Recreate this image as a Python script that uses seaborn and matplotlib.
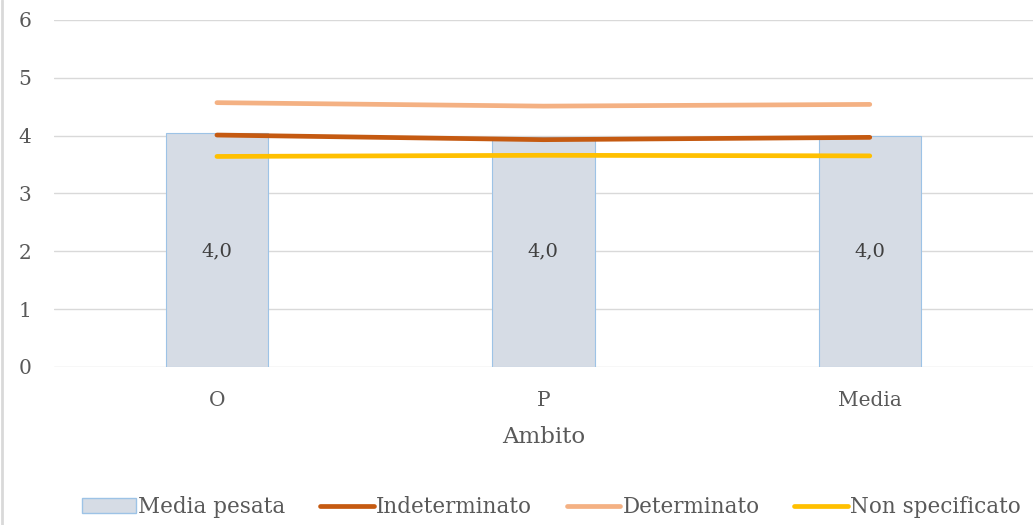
import matplotlib
matplotlib.use("Agg")
import matplotlib.pyplot as plt
import seaborn as sns
import pandas as pd
from matplotlib.patches import Patch
from matplotlib.lines import Line2D

categories = ["O", "P", "Media"]
media_pesata = [4.05, 3.97, 4.0]
indeterminato = [4.01, 3.93, 3.97]
determinato = [4.57, 4.51, 4.54]
non_specificato = [3.64, 3.66, 3.65]
bar_labels = ["4,0", "4,0", "4,0"]

sns.set_theme(style="white")
plt.rcParams["font.family"] = ["DejaVu Serif", "Liberation Serif"]

fig = plt.figure(figsize=(10.33, 5.25), dpi=100)
ax = fig.add_axes([0.052, 0.301, 0.948, 0.661])

df = pd.DataFrame({"Ambito": categories, "Media pesata": media_pesata})
sns.barplot(data=df, x="Ambito", y="Media pesata", ax=ax, color="#D6DCE5",
            edgecolor="#9DC3E6", linewidth=0.8, width=0.314, saturation=1, zorder=2)

line_series = [("Indeterminato", indeterminato, "#C55A11"),
               ("Determinato", determinato, "#F4B183"),
               ("Non specificato", non_specificato, "#FFC000")]
for name, vals, col in line_series:
    ldf = pd.DataFrame({"Ambito": categories, "v": vals})
    sns.lineplot(data=ldf, x="Ambito", y="v", ax=ax, color=col, linewidth=3.4,
                 sort=False, zorder=3, solid_capstyle="round")

for i, lab in enumerate(bar_labels):
    ax.text(i, 2.0, lab, ha="center", va="center", fontsize=14, color="#404040", zorder=4)

ax.set_xlim(-0.5, 2.5)
ax.set_ylim(0, 6)
ax.set_yticks(range(0, 7))
ax.grid(axis="y", color="#D9D9D9", linewidth=1)
ax.set_axisbelow(True)
for s in ax.spines.values():
    s.set_visible(False)
ax.tick_params(axis="both", length=0, labelsize=14.5, labelcolor="#595959")
ax.tick_params(axis="y", pad=16)
ax.tick_params(axis="x", pad=17)
ax.set_ylabel("")
ax.set_xlabel("Ambito", fontsize=16.5, color="#595959", labelpad=12)

handles = [Patch(facecolor="#D6DCE5", edgecolor="#9DC3E6", label="Media pesata")]
for name, vals, col in line_series:
    handles.append(Line2D([0], [0], color=col, linewidth=3.4, label=name))
fig.legend(handles=handles, loc="center", bbox_to_anchor=(0.534, 0.034), ncol=4,
           frameon=False, fontsize=15.5, labelcolor="#595959", handlelength=2.5,
           handletextpad=0.1, columnspacing=1.6)

fig.add_artist(Line2D([0.002, 0.002], [0.0, 1.0], color="#D9D9D9", linewidth=2,
                      transform=fig.transFigure))

fig.savefig("out.png", dpi=100)
